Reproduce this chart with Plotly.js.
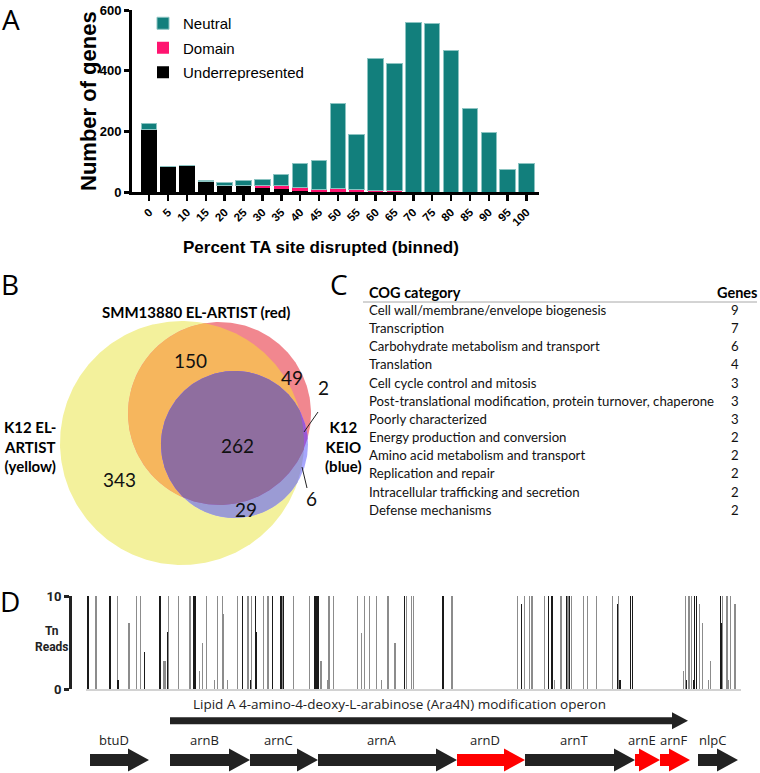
<!DOCTYPE html>
<html>
<head>
<meta charset="utf-8">
<script src="https://cdn.plot.ly/plotly-3.0.1.min.js"></script>
<style>
  html, body { margin: 0; padding: 0; background: #fff; }
  #fig { width: 760px; height: 773px; }
</style>
</head>
<body>
<div id="fig"></div>
<script>
// Panel A - genes per bin of TA-site disruption
const bins = ['0','5','10','15','20','25','30','35','40','45','50','55','60','65','70','75','80','85','90','95','100'];
const underrepresented = [205, 83, 87, 33, 21, 21, 13, 11, 2, 0, 0, 0, 0, 0, 0, 0, 0, 0, 0, 0, 0];
const domainGenes      = [0, 0, 0, 0, 2, 2, 10, 12, 14, 9, 13, 7, 6, 5, 0, 0, 0, 0, 0, 0, 0];
const neutral          = [20, 1, 1, 6, 8, 16, 18, 35, 79, 96, 278, 182, 433, 418, 560, 556, 466, 274, 196, 75, 93];

// Panel B - Venn counts
const vennCounts = { yellowOnly: 343, yellowRed: 150, redOnly: 49, redBlue: 2, all: 262, yellowBlue: 29, blueOnly: 6 };

// Panel C - COG categories
const cogCategories = [
  'Cell wall/membrane/envelope biogenesis',
  'Transcription',
  'Carbohydrate metabolism and transport',
  'Translation',
  'Cell cycle control and mitosis',
  'Post-translational modification, protein turnover, chaperone',
  'Poorly characterized',
  'Energy production and conversion',
  'Amino acid metabolism and transport',
  'Replication and repair',
  'Intracellular trafficking and secretion',
  'Defense mechanisms'
];
const cogGenes = [9, 7, 6, 4, 3, 3, 3, 2, 2, 2, 2, 2];

// Panel D - Tn reads [position, reads]
const darkReads = [[88,10],[110,10],[118,1],[144.3,4],[160,10],[167.7,6.1],[194,10],[195.3,10],[242.7,10],
  [250.7,1],[255.5,10],[256.5,6.1],[272.7,10],[281,10],[283.3,10],[315,10],[316.5,10],[318,10],[404.7,10],
  [443,10],[443.7,10],[521.3,9.1],[548.7,10],[552,10],[566.3,10],[569.7,10],[617.3,9.1],[620,1],[630.7,10],
  [632.7,10],[686.3,1],[693.3,1],[694.7,10],[696.7,10],[720.7,10],[721.7,7.1]];
const greyReads = [[96,10],[117.5,10],[129,7.1],[136.3,10],[140.7,10],[164,3],[165.3,3],[168.3,10],[178.3,10],
  [190,10],[199.7,1.9],[202.3,5],[206.7,10],[214.3,1],[217.3,10],[222.3,10],[223.7,8.1],[227.7,1],[237.7,10],
  [248,10],[251.5,10],[263.7,10],[268,10],[282.3,10],[293.7,10],[309.3,10],[321,3],[328,1],[329,10],[333.7,10],
  [357.3,10],[361.7,6],[364.7,10],[369.3,10],[376.3,10],[381.3,1],[388,10],[395,5],[406.3,10],[411.3,10],
  [413.3,10],[452,10],[517.3,10],[524.7,10],[529.3,10],[532,10],[544.7,10],[554.7,1],[561,10],[568,10],
  [571.3,10],[583.7,10],[587.7,10],[596.7,10],[612.7,10],[618.7,10],[683.3,1.9],[685.3,10],[688.3,10],
  [689.8,10],[691.3,10],[699.7,9.1],[702.7,7.1],[708.7,1],[710.3,3],[722.7,10],[727,10],[728.3,1],[730.3,10],[735,9.1]];

// Panel D - genes (same coordinate as reads)
const genes      = ['btuD','arnB','arnC','arnA','arnD','arnT','arnE','arnF','nlpC'];
const geneStart  = [90, 170, 250, 318, 457, 525, 635, 660, 698];
const geneEnd    = [149, 250, 318, 457, 525, 635, 660, 690, 738];
const redGenes   = ['arnD','arnE','arnF'];
const operon     = { name: 'Lipid A 4-amino-4-deoxy-L-arabinose (Ara4N) modification operon', start: 170, end: 688 };

const W = 760, H = 773;
const fontA = 'Arial, "Liberation Sans", sans-serif';
const fontB = 'Lato, sans-serif';
const fontD = '"Open Sans", sans-serif';

const traces = [];

// ---- A: stacked bars
traces.push({ type: 'bar', name: 'Underrepresented', x: bins, y: underrepresented, xaxis: 'x', yaxis: 'y',
  marker: { color: '#000000', line: { width: 0 } }, legendgroup: 'u', legendrank: 3, hoverinfo: 'skip' });
traces.push({ type: 'bar', name: 'Domain', x: bins, y: domainGenes, xaxis: 'x', yaxis: 'y',
  marker: { color: '#ff1470', line: { width: 0 } }, legendgroup: 'd', legendrank: 2, hoverinfo: 'skip' });
traces.push({ type: 'bar', name: 'Neutral', x: bins, y: neutral, xaxis: 'x', yaxis: 'y',
  marker: { color: '#127f7c', line: { color: '#8cc4c2', width: 1 } }, legendgroup: 'n', legendrank: 1, hoverinfo: 'skip' });

// ---- B: Venn regions built by clipping circles
const circ = { yellow: { cx: 182, cy: 443, r: 122 }, red: { cx: 219.5, cy: 413.5, r: 91.5 }, blue: { cx: 234.5, cy: 444.5, r: 73.5 } };
function circlePts(c, n = 360) {
  const p = [];
  for (let i = 0; i < n; i++) { const t = 2 * Math.PI * i / n; p.push([c.cx + c.r * Math.cos(t), c.cy + c.r * Math.sin(t)]); }
  return p;
}
function clip(subject, clipper) {
  let out = subject;
  for (let i = 0; i < clipper.length && out.length; i++) {
    const a = clipper[i], b = clipper[(i + 1) % clipper.length];
    const side = p => (b[0] - a[0]) * (p[1] - a[1]) - (b[1] - a[1]) * (p[0] - a[0]);
    const inter = (p, q) => { const d1 = side(p), d2 = side(q), t = d1 / (d1 - d2); return [p[0] + t * (q[0] - p[0]), p[1] + t * (q[1] - p[1])]; };
    const inp = out; out = [];
    for (let j = 0; j < inp.length; j++) {
      const cur = inp[j], prev = inp[(j + inp.length - 1) % inp.length];
      if (side(cur) >= 0) { if (side(prev) < 0) out.push(inter(prev, cur)); out.push(cur); }
      else if (side(prev) >= 0) out.push(inter(prev, cur));
    }
  }
  return out;
}
const Y = circlePts(circ.yellow), R = circlePts(circ.red), B = circlePts(circ.blue);
const regions = [
  [Y, '#f3f19c'],
  [R, '#f1878f'],
  [clip(R, Y), '#f6b65d'],
  [B, '#a6a6fc'],
  [clip(B, Y), '#9b9bd4'],
  [clip(B, R), '#9c58d6'],
  [clip(clip(B, R), Y), '#8f6e9f']
];
regions.forEach(([pts, col]) => {
  traces.push({ type: 'scatter', mode: 'lines', x: pts.map(p => p[0]).concat([pts[0][0]]), y: pts.map(p => p[1]).concat([pts[0][1]]),
    xaxis: 'x4', yaxis: 'y4', fill: 'toself', fillcolor: col, line: { width: 0, color: col }, showlegend: false, hoverinfo: 'skip' });
});

// ---- D: Tn reads as thin bars
traces.push({ type: 'bar', x: greyReads.map(d => d[0]), y: greyReads.map(d => d[1]), width: 1.1, xaxis: 'x2', yaxis: 'y2',
  marker: { color: '#8c8c8c', line: { width: 0 } }, showlegend: false, hoverinfo: 'skip' });
traces.push({ type: 'bar', x: darkReads.map(d => d[0]), y: darkReads.map(d => d[1]), width: 1.2, xaxis: 'x2', yaxis: 'y2',
  marker: { color: '#1a1a1a', line: { width: 0 } }, showlegend: false, hoverinfo: 'skip' });

// ---- D: gene arrows
function arrow(x0, x1, yc, bh, hh, hl) {
  const h = Math.min(hl, x1 - x0);
  return { x: [x0, x1 - h, x1 - h, x1, x1 - h, x1 - h, x0, x0], y: [yc - bh, yc - bh, yc - hh, yc, yc + hh, yc + bh, yc + bh, yc - bh] };
}
const op = arrow(operon.start, operon.end, 28.7, 3.5, 8.5, 16);
traces.push({ type: 'scatter', mode: 'lines', x: op.x, y: op.y, xaxis: 'x2', yaxis: 'y3', fill: 'toself',
  fillcolor: '#222222', line: { width: 0 }, showlegend: false, hoverinfo: 'skip' });
genes.forEach((g, i) => {
  const a = arrow(geneStart[i], geneEnd[i], 68, 6, 11.5, 21);
  const col = redGenes.includes(g) ? '#ff0000' : '#222222';
  traces.push({ type: 'scatter', mode: 'lines', x: a.x, y: a.y, xaxis: 'x2', yaxis: 'y3', fill: 'toself',
    fillcolor: col, line: { width: 0 }, showlegend: false, hoverinfo: 'skip' });
});

// ---- annotations
const ann = [];
const pxAnn = (x, y, text, font, extra = {}) => ann.push(Object.assign({ xref: 'x4', yref: 'y4', x, y, text, showarrow: false, font }, extra));

// panel letters
const letterFont = { family: fontD, size: 28, color: '#000' };
pxAnn(11, 19, 'A', letterFont);
pxAnn(10, 284, 'B', letterFont);
pxAnn(339, 284, 'C', letterFont);
pxAnn(10, 601, 'D', letterFont);

// A titles
pxAnn(88, 101, 'Number of genes', { family: fontA, size: 22, color: '#000', weight: 'bold' }, { textangle: -90 });
pxAnn(321, 247, 'Percent TA site disrupted (binned)', { family: fontA, size: 17, color: '#000', weight: 'bold' });

// B labels
const vennBold = { family: fontB, size: 15, color: '#000', weight: 'bold' };
const vennNum = { family: fontB, size: 19, color: '#111' };
pxAnn(195.5, 312, 'SMM13880 EL-ARTIST (red)', vennBold);
pxAnn(30, 446, 'K12 EL-<br>ARTIST<br>(yellow)', vennBold);
pxAnn(343, 446, 'K12<br>KEIO<br>(blue)', vennBold);
pxAnn(190, 360, String(vennCounts.yellowRed), vennNum);
pxAnn(292, 377, String(vennCounts.redOnly), vennNum);
pxAnn(323, 387, String(vennCounts.redBlue), vennNum);
pxAnn(237, 445, String(vennCounts.all), vennNum);
pxAnn(119, 479, String(vennCounts.yellowOnly), vennNum);
pxAnn(246, 509, String(vennCounts.yellowBlue), vennNum);
pxAnn(311, 498, String(vennCounts.blueOnly), vennNum);

// C table
const tHead = { family: fontB, size: 14.5, color: '#000', weight: 'bold' };
const tBody = { family: fontB, size: 13.2, color: '#111' };
pxAnn(367, 292, 'COG category', tHead, { xanchor: 'left' });
pxAnn(737, 292, 'Genes', tHead);
cogCategories.forEach((c, i) => {
  const y = 310 + i * 18.15;
  pxAnn(367, y, c, tBody, { xanchor: 'left' });
  pxAnn(735, y, String(cogGenes[i]), tBody);
});

// D labels
pxAnn(52, 639, 'Tn<br>Reads', { family: 'Roboto, sans-serif', size: 12, color: '#222', weight: 'bold' });
ann.push({ xref: 'x2', yref: 'y3', x: operon.start + 21, y: 12, xanchor: 'left', text: operon.name, showarrow: false,
  font: { family: fontD, size: 13.5, color: '#222' } });
let prevLabel = -Infinity;
genes.forEach((g, i) => {
  const lx = Math.max((geneStart[i] + geneEnd[i]) / 2 - 6, prevLabel + 32);
  prevLabel = lx;
  ann.push({ xref: 'x2', yref: 'y3', x: lx, y: 48, text: g, showarrow: false,
    font: { family: fontD, size: 13, color: '#222' } });
});

const shapes = [
  { type: 'line', xref: 'x4', yref: 'y4', x0: 304, y0: 432, x1: 318, y1: 412, line: { color: '#222', width: 1 } },
  { type: 'line', xref: 'x4', yref: 'y4', x0: 302, y0: 467, x1: 307, y1: 488, line: { color: '#222', width: 1 } },
  { type: 'line', xref: 'x4', yref: 'y4', x0: 363, y0: 302, x1: 757, y1: 302, line: { color: '#a8a8a8', width: 1 } }
];

const layout = {
  width: W, height: H,
  margin: { l: 0, r: 0, t: 0, b: 0 },
  paper_bgcolor: '#ffffff', plot_bgcolor: 'rgba(0,0,0,0)',
  barmode: 'stack', bargap: 0.18,
  showlegend: true,
  legend: { x: 143 / W, y: 1 - 7 / H, xanchor: 'left', yanchor: 'top', bgcolor: 'rgba(0,0,0,0)',
    traceorder: 'grouped', tracegroupgap: 2, font: { family: fontA, size: 15, color: '#000' } },
  xaxis: { domain: [132 / W, 539 / W], anchor: 'y', type: 'category', range: [-0.91, 20.66], fixedrange: true,
    showline: true, linewidth: 3, linecolor: '#000', ticks: 'outside', ticklen: 6, tickwidth: 2.5, tickcolor: '#000',
    tickangle: -45, tickfont: { family: fontA, size: 11.5, color: '#000', weight: 'bold' }, showgrid: false, zeroline: false },
  yaxis: { domain: [1 - 192 / H, 1 - 10 / H], anchor: 'x', range: [0, 600], tickvals: [0, 200, 400, 600], fixedrange: true,
    showline: true, linewidth: 3, linecolor: '#000', ticks: 'outside', ticklen: 5, tickwidth: 3, tickcolor: '#000',
    tickfont: { family: fontA, size: 13, color: '#000', weight: 'bold' }, showgrid: false, zeroline: false },
  xaxis2: { domain: [86 / W, 741 / W], anchor: 'y2', range: [86, 741], fixedrange: true, showline: true, linecolor: '#d2d2d2',
    linewidth: 2, showticklabels: false, ticks: '', showgrid: false, zeroline: false },
  yaxis2: { domain: [1 - 689 / H, 1 - 596 / H], anchor: 'free', position: 70 / W, range: [0, 10], tickvals: [0, 10], fixedrange: true,
    showline: true, linewidth: 3, linecolor: '#222', ticks: 'outside', ticklen: 5, tickwidth: 3, tickcolor: '#222',
    tickfont: { family: 'Roboto, sans-serif', size: 13, color: '#222', weight: 'bold' }, showgrid: false, zeroline: false },
  yaxis3: { domain: [0, 1 - 692 / H], anchor: 'x2', range: [81, 0], visible: false, fixedrange: true },
  xaxis4: { domain: [0, 1], anchor: 'y4', range: [0, W], visible: false, fixedrange: true },
  yaxis4: { domain: [0, 1], anchor: 'x4', range: [H, 0], visible: false, fixedrange: true },
  annotations: ann,
  shapes: shapes
};

Plotly.newPlot('fig', traces, layout, { displayModeBar: false, staticPlot: true });
</script>
</body>
</html>
